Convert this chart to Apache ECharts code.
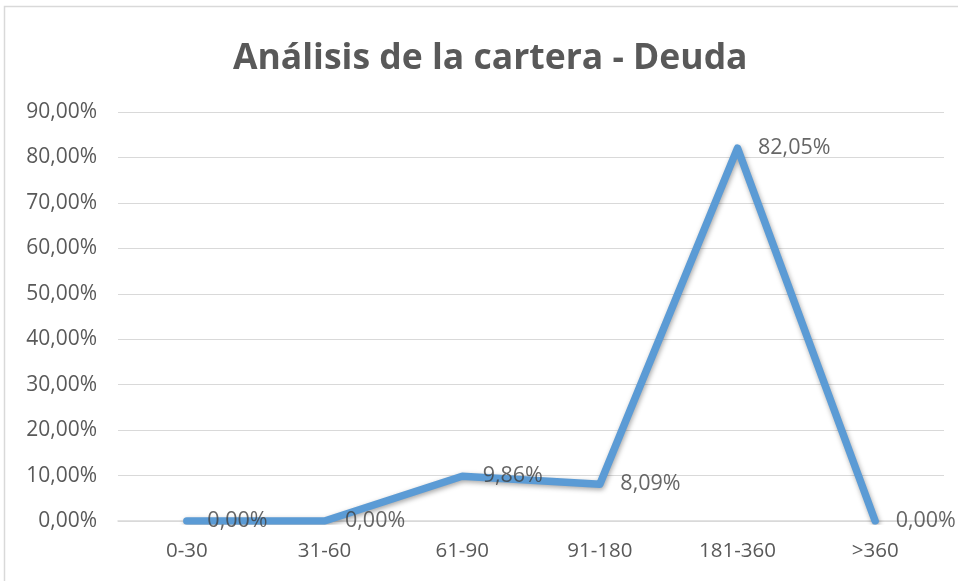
<!DOCTYPE html>
<html><head><meta charset="utf-8">
<script src="https://cdn.jsdelivr.net/npm/echarts@6/dist/echarts.min.js"></script>
<style>html,body{margin:0;padding:0;background:#fff;}#c{width:958px;height:581px;}</style>
</head><body><div id="c"></div>
<script>
const categories = ['0-30','31-60','61-90','91-180','181-360','>360'];
const values = [0, 0, 9.86, 8.09, 82.05, 0];
const yTicks = {min: 0, max: 90, interval: 10};
const titleText = 'Análisis de la cartera - Deuda';

const fmt = v => v.toFixed(2).replace('.', ',') + '%';
const chart = echarts.init(document.getElementById('c'));
chart.setOption({
  animation: false,
  backgroundColor: '#fff',
  graphic: [{type:'rect', shape:{x:4.5,y:6.5,width:1000,height:1000}, style:{fill:'none', stroke:'#d9d9d9', lineWidth:1.5}, silent:true}],
  title: {text: titleText, left: 228, top: 36, textStyle:{fontFamily:'Open Sans', fontWeight:'bold', fontSize:35.5, color:'#595959'}},
  grid: {left: 118, right: 14, top: 112, bottom: 60, containLabel:false},
  xAxis: {type:'category', data: categories, boundaryGap: true,
    axisLine:{lineStyle:{color:'#d9d9d9', width:1.5}}, axisTick:{show:false},
    axisLabel:{color:'#595959', fontSize:20.5, fontFamily:'Open Sans', margin:20}},
  yAxis: {type:'value', min: yTicks.min, max: yTicks.max, interval: yTicks.interval,
    axisLine:{show:false}, axisTick:{show:false},
    splitLine:{lineStyle:{color:'#d9d9d9', width:1}},
    axisLabel:{color:'#595959', fontSize:21, fontFamily:'Open Sans', margin:21, formatter: fmt}},
  series: [
    {type:'line', data: values, symbol:'none', z:2,
      lineStyle:{color:'#5b9bd5', width:7.5, join:'round', cap:'round', shadowColor:'rgba(0,0,0,0.35)', shadowBlur:5, shadowOffsetX:1, shadowOffsetY:2}},
    {type:'scatter', data: values, symbolSize:1, z:3,
      itemStyle:{color:'rgba(0,0,0,0)'},
      label:{show:true, position:'right', distance:20, offset:[0,2], color:'#404040', fontSize:21.5, fontFamily:'Open Sans', formatter: p => fmt(p.value)},
      labelLayout:{hideOverlap:false}}
  ]
});
</script></body></html>
